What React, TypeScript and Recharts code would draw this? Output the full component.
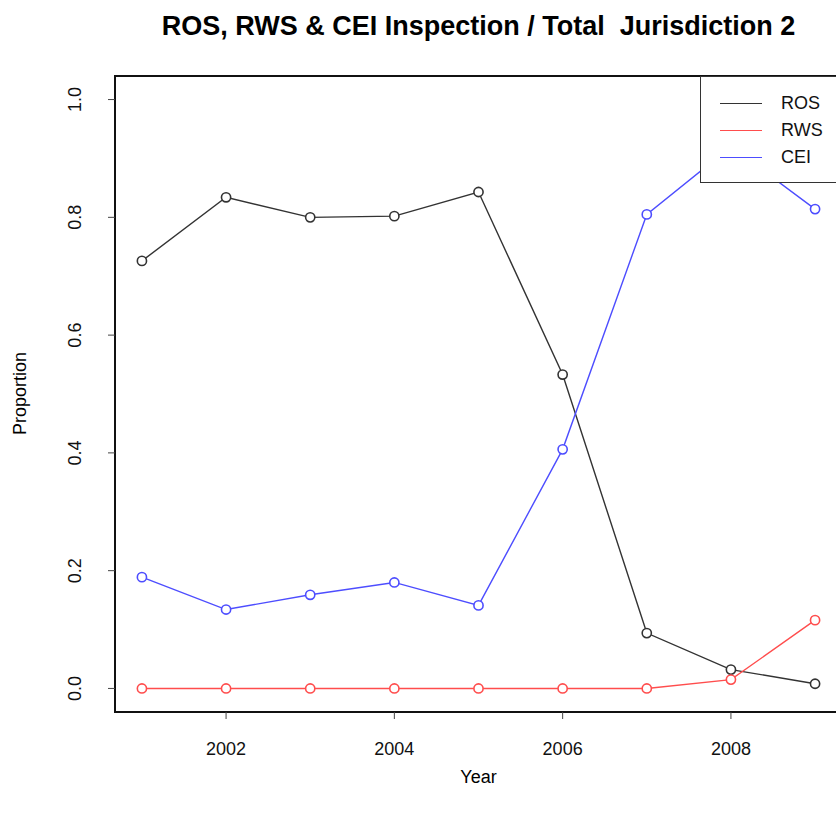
import React from "react";
import { LineChart, Line, XAxis, YAxis, ReferenceArea } from "recharts";

// values (proportion of total inspections)
const years = [2001, 2002, 2003, 2004, 2005, 2006, 2007, 2008, 2009];
const ros = [0.726, 0.834, 0.8, 0.802, 0.843, 0.533, 0.094, 0.032, 0.008];
const rws = [0, 0, 0, 0, 0, 0, 0, 0.015, 0.116];
const cei = [0.189, 0.134, 0.159, 0.18, 0.141, 0.406, 0.805, 0.92, 0.814];

const xTicks = [2002, 2004, 2006, 2008];
const yTicks = [0, 0.2, 0.4, 0.6, 0.8, 1.0];
const xDomain = [2000.68, 2009.32];
const yDomain = [-0.04, 1.04];

const seriesInfo = [
  { key: "ROS", color: "#333333" },
  { key: "RWS", color: "#ff4d4d" },
  { key: "CEI", color: "#4d4dff" },
];

const data = years.map((year, i) => ({
  year,
  ROS: ros[i],
  RWS: rws[i],
  CEI: cei[i],
}));

const FONT = "'Liberation Sans', Arial, Helvetica, sans-serif";

function YTick(props: any) {
  const { x, y, payload } = props;
  return (
    <text
      x={x}
      y={y}
      transform={`rotate(-90 ${x} ${y})`}
      textAnchor="middle"
      fill="#111"
      fontSize={18}
      fontFamily={FONT}
    >
      {payload.value.toFixed(1)}
    </text>
  );
}

function makeRing(color: string) {
  return (props: any) => {
    const { cx, cy, index } = props;
    if (cx == null || cy == null) return <g key={`ring-${index}`} />;
    return (
      <circle
        key={`ring-${index}`}
        cx={cx}
        cy={cy}
        r={4.6}
        fill="#fff"
        stroke={color}
        strokeWidth={1.6}
      />
    );
  };
}

export default function App() {
  return (
    <div
      style={{
        position: "absolute",
        left: 0,
        top: 0,
        width: 836,
        height: 823,
        overflow: "hidden",
        background: "#fff",
        fontFamily: FONT,
      }}
    >
      <div
        style={{
          position: "absolute",
          left: 115,
          width: 727,
          top: 11,
          textAlign: "center",
          fontWeight: "bold",
          fontSize: 27,
          color: "#000",
          whiteSpace: "nowrap",
        }}
      >
        ROS, RWS &amp; CEI Inspection / Total&nbsp;&nbsp;Jurisdiction 2
      </div>
      <div
        style={{
          position: "absolute",
          left: 115,
          width: 727,
          top: 767,
          textAlign: "center",
          fontSize: 18,
          color: "#000",
        }}
      >
        Year
      </div>
      <div
        style={{
          position: "absolute",
          left: 20,
          top: 394,
          width: 200,
          marginLeft: -100,
          marginTop: -11,
          textAlign: "center",
          fontSize: 18,
          color: "#000",
          transform: "rotate(-90deg)",
        }}
      >
        Proportion
      </div>

      <div style={{ position: "absolute", left: 0, top: 0 }}>
        <LineChart
          width={860}
          height={823}
          data={data}
          margin={{ top: 76, right: 18, bottom: 51, left: 55 }}
        >
          <XAxis
            dataKey="year"
            type="number"
            domain={xDomain}
            ticks={xTicks}
            height={60}
            axisLine={false}
            tickSize={7}
            tickMargin={23}
            tickLine={{ stroke: "#444" }}
            tick={{ fill: "#111", fontSize: 18, fontFamily: FONT }}
          />
          <YAxis
            type="number"
            domain={yDomain}
            ticks={yTicks}
            width={60}
            axisLine={false}
            tickSize={7}
            tickMargin={27}
            tickLine={{ stroke: "#444" }}
            tick={<YTick />}
          />
          <ReferenceArea
            x1={xDomain[0]}
            x2={xDomain[1]}
            y1={yDomain[0]}
            y2={yDomain[1]}
            fill="none"
            fillOpacity={0}
            stroke="#111"
            strokeWidth={2}
          />
          {seriesInfo.map((s) => (
            <Line
              key={s.key}
              dataKey={s.key}
              stroke={s.color}
              strokeWidth={1.4}
              dot={makeRing(s.color)}
              activeDot={false}
              isAnimationActive={false}
              legendType="none"
            />
          ))}
        </LineChart>
      </div>

      <div
        style={{
          position: "absolute",
          left: 700,
          top: 76,
          width: 160,
          height: 107,
          background: "#fff",
          border: "1.5px solid #333",
          boxSizing: "border-box",
          zIndex: 3,
        }}
      >
        {seriesInfo.map((s, i) => (
          <div
            key={s.key}
            style={{
              position: "absolute",
              left: 0,
              top: 14 + i * 27,
              height: 24,
              display: "flex",
              alignItems: "center",
            }}
          >
            <div
              style={{
                marginLeft: 19,
                width: 42,
                height: 0,
                borderTop: `1.5px solid ${s.color}`,
              }}
            />
            <span style={{ marginLeft: 19, fontSize: 18, color: "#111" }}>{s.key}</span>
          </div>
        ))}
      </div>
    </div>
  );
}
